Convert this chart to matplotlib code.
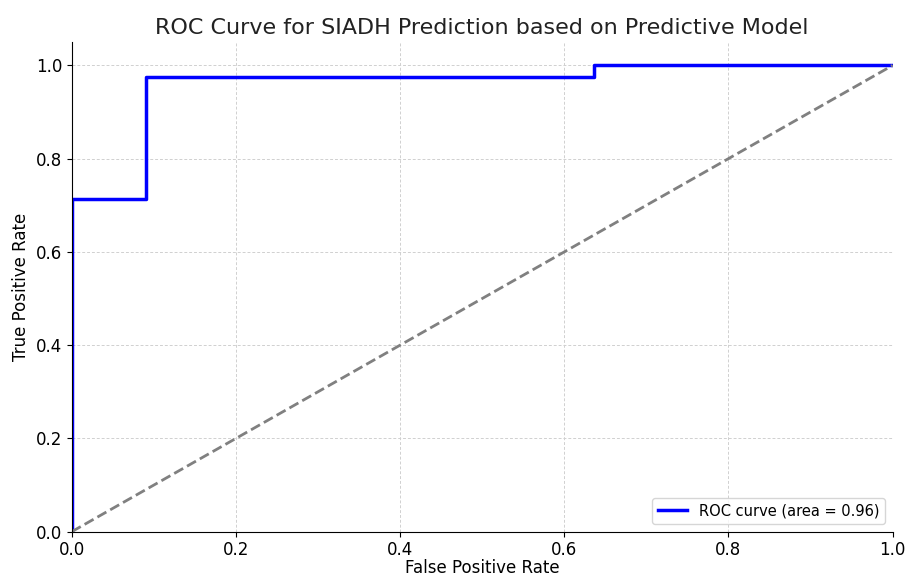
import numpy as np
import matplotlib
matplotlib.use("Agg")
from matplotlib import pyplot as plt

# ROC points
fpr = [0.0, 0.0, 0.0909, 0.0909, 0.636, 0.636, 1.0]
tpr = [0.0, 0.714, 0.714, 0.976, 0.976, 1.0, 1.0]
roc_auc = 0.96

chance_x = [0, 1]
chance_y = [0, 1]

fig = plt.figure(figsize=(9.09, 5.76), dpi=100)
ax = fig.add_axes([0.079, 0.077, 0.903, 0.850])

ax.plot(fpr, tpr, color='blue', lw=2.5, label=f'ROC curve (area = {roc_auc:.2f})')
ax.plot(chance_x, chance_y, color='gray', lw=2, linestyle='--')

ax.set_xlim(0.0, 1.0)
ax.set_ylim(0.0, 1.05)
ax.set_xlabel('False Positive Rate', fontsize=12, labelpad=0)
ax.set_ylabel('True Positive Rate', fontsize=12, labelpad=4)
ax.set_title('ROC Curve for SIADH Prediction based on Predictive Model', fontsize=16, color='#222222')
ax.tick_params(labelsize=12)
ax.grid(True, linestyle=(0, (3, 2)), color='#d0d0d0', lw=0.7)
ax.spines['top'].set_visible(False)
ax.spines['right'].set_visible(False)
ax.legend(loc='lower right', fontsize=10.5)

fig.savefig('out.png', dpi=100)
